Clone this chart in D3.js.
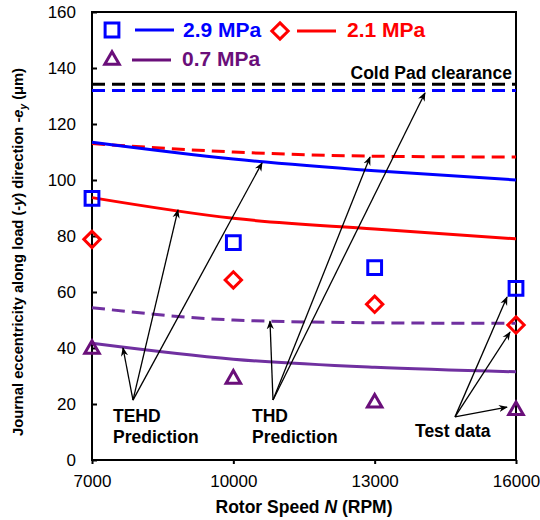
<!DOCTYPE html>
<html>
<head>
<meta charset="utf-8">
<script src="https://cdn.jsdelivr.net/npm/d3@7"></script>
<style>
  body { margin: 0; background: #fff; }
  svg { font-family: "Liberation Sans", Arial, sans-serif; }
</style>
</head>
<body>
<svg id="chart" width="540" height="520"></svg>
<script>
// rotor speeds (RPM)
const speeds = [7000, 10000, 13000, 16000];

// TEHD predictions (solid)
const tehd29 = [113.5, 107.5, 103.3, 100];
const tehd21 = [93.7, 86.3, 82.5, 79];
const tehd07 = [41.7, 36, 33.1, 31.5];

// THD predictions (dashed)
const thd29 = [132, 132, 132, 132];
const thd21 = [113, 110, 108.5, 108.2];
const thd07 = [54.4, 50, 49, 48.8];

// test data
const test29 = [93.4, 77.6, 68.7, 61.3];
const test21 = [78.8, 64.3, 55.6, 48.2];
const test07 = [40, 29.3, 20.8, 18.1];

const coldPad = 134.2;
const yTicks = [0, 20, 40, 60, 80, 100, 120, 140, 160];
const xTicks = [7000, 10000, 13000, 16000];

// annotation arrows in data units: [from speed, from value, to speed, to value]
const tehdArrows = [[7870, 21.4, 7658, 40], [7870, 21.4, 8825, 89.3], [7870, 21.4, 10609, 106.1]];
const thdArrows = [[10842, 21.4, 10778, 49.6], [10842, 21.4, 12901, 108.2], [10842, 21.4, 14068, 131.1]];
const testArrows = [[14705, 15.4, 15809, 58.2], [14705, 15.4, 15873, 45.7], [14705, 15.4, 15809, 18.9]];

const blue = "#0000ff", red = "#ff0000", purple = "#7030a0", darkPurple = "#6a0f7a";

const margin = {top: 12, right: 24, bottom: 60, left: 92};
const width = 540, height = 520;

const svg = d3.select("#chart");

const x = d3.scaleLinear().domain([7000, 16000]).range([margin.left, width - margin.right]);
const y = d3.scaleLinear().domain([0, 160]).range([height - margin.bottom, margin.top]);

// axes
svg.append("g")
  .attr("transform", `translate(0,${height - margin.bottom})`)
  .style("font-size", "17px")
  .call(d3.axisBottom(x).tickValues(xTicks).tickSize(4).tickPadding(11).tickFormat(d3.format("d")))
  .call(g => g.select(".domain").remove())
  .call(g => g.selectAll("line").attr("stroke-width", 2));

svg.append("g")
  .attr("transform", `translate(${margin.left},0)`)
  .style("font-size", "17px")
  .call(d3.axisLeft(y).tickValues(yTicks).tickSize(-5).tickPadding(16))
  .call(g => g.select(".domain").remove())
  .call(g => g.selectAll("line").attr("stroke-width", 2));

// frame
svg.append("rect")
  .attr("x", margin.left).attr("y", margin.top)
  .attr("width", width - margin.left - margin.right)
  .attr("height", height - margin.top - margin.bottom)
  .attr("fill", "none").attr("stroke", "#000").attr("stroke-width", 2);

const line = d3.line()
  .x((d, i) => x(speeds[i]))
  .y(d => y(d))
  .curve(d3.curveMonotoneX);

const plot = svg.append("g");

// cold pad clearance
plot.append("path")
  .datum(speeds.map(() => coldPad))
  .attr("d", line)
  .attr("fill", "none").attr("stroke", "#000").attr("stroke-width", 3)
  .attr("stroke-dasharray", "13,7");

const series = [
  {v: thd29, c: blue, dash: true},
  {v: thd21, c: red, dash: true},
  {v: thd07, c: purple, dash: true},
  {v: tehd29, c: blue, dash: false},
  {v: tehd21, c: red, dash: false},
  {v: tehd07, c: purple, dash: false}
];

series.forEach(s => {
  plot.append("path")
    .datum(s.v)
    .attr("d", line)
    .attr("fill", "none")
    .attr("stroke", s.c)
    .attr("stroke-width", 3)
    .attr("stroke-dasharray", s.dash ? "13,7" : null);
});

// markers
const sq = d3.symbol().type(d3.symbolSquare).size(190);
const dm = d3.symbol().type(d3.symbolDiamond2).size(170);
const tr = d3.symbol().type(d3.symbolTriangle2).size(150);

function markers(vals, sym, color, dy) {
  plot.selectAll(null)
    .data(vals)
    .join("path")
    .attr("d", sym)
    .attr("transform", (d, i) => `translate(${x(speeds[i])},${y(d) + (dy || 0)})`)
    .attr("fill", "none")
    .attr("stroke", color)
    .attr("stroke-width", 3);
}
markers(test29, sq, blue);
markers(test21, dm, red);
markers(test07, tr, darkPurple, 1);

// legend
const lg = svg.append("g").style("font-size", "21px").style("font-weight", "bold");
lg.append("path").attr("d", sq).attr("transform", "translate(112,30)")
  .attr("fill", "none").attr("stroke", blue).attr("stroke-width", 3);
lg.append("line").attr("x1", 135).attr("x2", 174).attr("y1", 30).attr("y2", 30)
  .attr("stroke", blue).attr("stroke-width", 3);
lg.append("text").attr("x", 183).attr("y", 37).attr("fill", blue).text("2.9 MPa");

lg.append("path").attr("d", dm).attr("transform", "translate(280,31)")
  .attr("fill", "none").attr("stroke", red).attr("stroke-width", 3);
lg.append("line").attr("x1", 297).attr("x2", 336).attr("y1", 31).attr("y2", 31)
  .attr("stroke", red).attr("stroke-width", 3);
lg.append("text").attr("x", 347).attr("y", 37).attr("fill", red).text("2.1 MPa");

lg.append("path").attr("d", tr).attr("transform", "translate(112,60)")
  .attr("fill", "none").attr("stroke", darkPurple).attr("stroke-width", 3);
lg.append("line").attr("x1", 132).attr("x2", 171).attr("y1", 60).attr("y2", 60)
  .attr("stroke", darkPurple).attr("stroke-width", 3);
lg.append("text").attr("x", 182).attr("y", 66).attr("fill", darkPurple).text("0.7 MPa");

// annotations
svg.append("defs").append("marker")
  .attr("id", "arrow")
  .attr("viewBox", "0 0 10 10")
  .attr("refX", 9).attr("refY", 5)
  .attr("markerWidth", 9).attr("markerHeight", 9)
  .attr("markerUnits", "userSpaceOnUse")
  .attr("orient", "auto")
  .append("path").attr("d", "M0,1 L10,5 L0,9 L3,5 Z").attr("fill", "#000");

svg.append("g").selectAll("line")
  .data(tehdArrows.concat(thdArrows, testArrows))
  .join("line")
  .attr("x1", d => x(d[0])).attr("y1", d => y(d[1]))
  .attr("x2", d => x(d[2])).attr("y2", d => y(d[3]))
  .attr("stroke", "#000").attr("stroke-width", 1.3)
  .attr("marker-end", "url(#arrow)");

const notes = svg.append("g").style("font-size", "17.5px").style("font-weight", "bold");
notes.append("text").attr("x", 113).attr("y", 422).text("TEHD");
notes.append("text").attr("x", 113).attr("y", 443).text("Prediction");
notes.append("text").attr("x", 252).attr("y", 422).text("THD");
notes.append("text").attr("x", 252).attr("y", 443).text("Prediction");
notes.append("text").attr("x", 415).attr("y", 437).text("Test data");
notes.append("text").attr("x", 512).attr("y", 79).attr("text-anchor", "end").text("Cold Pad clearance");

// axis titles
const xt = svg.append("text")
  .attr("x", 304).attr("y", 513)
  .attr("text-anchor", "middle")
  .style("font-size", "17.5px").style("font-weight", "bold");
xt.append("tspan").text("Rotor Speed ");
xt.append("tspan").style("font-style", "italic").text("N");
xt.append("tspan").text(" (RPM)");

const yt = svg.append("text")
  .attr("transform", `translate(23,252) rotate(-90)`)
  .attr("text-anchor", "middle")
  .style("font-size", "14.7px").style("font-weight", "bold");
yt.append("tspan").text("Journal eccentricity along load (-");
yt.append("tspan").style("font-style", "italic").text("y");
yt.append("tspan").text(") direction -");
yt.append("tspan").style("font-style", "italic").text("e");
yt.append("tspan").style("font-style", "italic").style("font-size", "10px").attr("dy", 4).text("y");
yt.append("tspan").attr("dy", -4).text(" (μm)");
</script>
</body>
</html>
